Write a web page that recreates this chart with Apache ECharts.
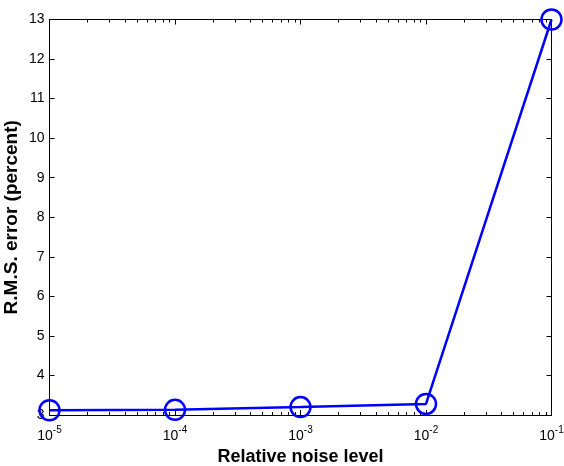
<!DOCTYPE html>
<html>
<head>
<meta charset="utf-8">
<script src="https://cdn.jsdelivr.net/npm/echarts@6/dist/echarts.min.js"></script>
<style>
  html, body { margin: 0; padding: 0; background: #fff; }
  #chart { width: 564px; height: 466px; }
</style>
</head>
<body>
<div id="chart"></div>
<script>
// data
let noiseLevels = [1e-5, 1e-4, 1e-3, 1e-2, 1e-1];
let rmsError = [3.12, 3.13, 3.2, 3.28, 13.0];
let xTickExponents = [-5, -4, -3, -2, -1];

let dom = document.getElementById("chart");
let myChart = echarts.init(dom, null, { renderer: "canvas" });

// minor ticks at 2..9 x 10^k
let minorTicks = [];
for (let e = -5; e < -1; e++) {
  for (let k = 2; k <= 9; k++) minorTicks.push(k * Math.pow(10, e));
}

const font = "Liberation Sans, Arial, sans-serif";
const axisLineStyle = { color: "#000", width: 1 };

let option = {
  animation: false,
  grid: {
    left: 49.5, right: 12.5, top: 19.5, bottom: 51,
    containLabel: false,
    outerBoundsMode: "none",
  },
  xAxis: [
    {
      type: "log",
      logBase: 10,
      min: 1e-5,
      max: 1e-1,
      position: "bottom",
      axisLine: { show: true, lineStyle: axisLineStyle },
      axisTick: { show: true, inside: true, length: 5, lineStyle: axisLineStyle },
      splitLine: { show: false },
      axisLabel: {
        margin: 10,
        fontFamily: font,
        formatter: function (v) {
          let e = Math.round(Math.log10(v));
          return xTickExponents.indexOf(e) >= 0 ? "{b|10}{s|" + e + "}" : "";
        },
        rich: {
          b: { fontSize: 14, fontFamily: font, color: "#000", verticalAlign: "bottom" },
          s: { fontSize: 10, fontFamily: font, color: "#000", padding: [0, 0, 8, 0], verticalAlign: "bottom" },
        },
      },
      name: "Relative noise level",
      nameLocation: "middle",
      nameGap: 31,
      nameTextStyle: { fontFamily: font, fontSize: 18, fontWeight: "bold", color: "#000" },
    },
    {
      type: "log",
      logBase: 10,
      min: 1e-5,
      max: 1e-1,
      position: "top",
      axisLine: { show: true, lineStyle: axisLineStyle },
      axisTick: { show: true, inside: true, length: 5, lineStyle: axisLineStyle },
      axisLabel: { show: false },
      splitLine: { show: false },
    },
    {
      type: "log",
      logBase: 10,
      min: 1e-5,
      max: 1e-1,
      position: "bottom",
      axisLine: { show: false },
      axisTick: { show: true, inside: true, length: 3, customValues: minorTicks, lineStyle: axisLineStyle },
      axisLabel: { show: false },
      splitLine: { show: false },
    },
    {
      type: "log",
      logBase: 10,
      min: 1e-5,
      max: 1e-1,
      position: "top",
      axisLine: { show: false },
      axisTick: { show: true, inside: true, length: 3, customValues: minorTicks, lineStyle: axisLineStyle },
      axisLabel: { show: false },
      splitLine: { show: false },
    },
  ],
  yAxis: [
    {
      type: "value",
      min: 3,
      max: 13,
      interval: 1,
      position: "left",
      axisLine: { show: true, lineStyle: axisLineStyle },
      axisTick: { show: true, inside: true, length: 5, lineStyle: axisLineStyle },
      splitLine: { show: false },
      axisLabel: { margin: 5, fontFamily: font, fontSize: 14, color: "#000" },
      name: "R.M.S. error (percent)",
      nameLocation: "middle",
      nameGap: 28,
      nameMoveOverlap: false,
      nameTextStyle: { fontFamily: font, fontSize: 19, fontWeight: "bold", color: "#000" },
    },
    {
      type: "value",
      min: 3,
      max: 13,
      interval: 1,
      position: "right",
      axisLine: { show: true, lineStyle: axisLineStyle },
      axisTick: { show: true, inside: true, length: 5, lineStyle: axisLineStyle },
      splitLine: { show: false },
      axisLabel: { show: false },
    },
  ],
  series: [
    {
      type: "line",
      xAxisIndex: 0,
      yAxisIndex: 0,
      clip: false,
      symbol: "circle",
      symbolSize: 20,
      lineStyle: { color: "#0000ff", width: 2.5 },
      itemStyle: { color: "transparent", borderColor: "#0000ff", borderWidth: 2.5 },
      data: noiseLevels.map((x, i) => [x, rmsError[i]]),
    },
  ],
};

myChart.setOption(option);
window.addEventListener("resize", myChart.resize);
</script>
</body>
</html>
